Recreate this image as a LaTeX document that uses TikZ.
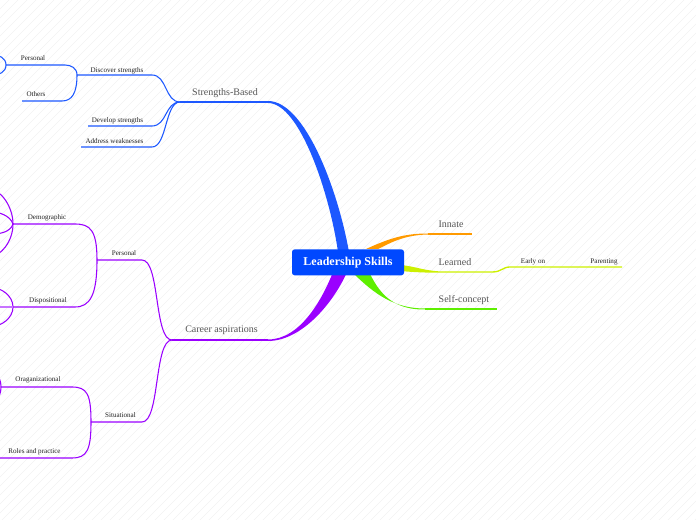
\documentclass[tikz,border=0pt]{standalone}
\usepackage{fontspec}
\setmainfont{Liberation Serif}
\definecolor{hubblue}{HTML}{0048FF}
\definecolor{strblue}{HTML}{1D58FF}
\definecolor{carpurple}{HTML}{9A00FF}
\definecolor{innorange}{HTML}{FF9A00}
\definecolor{lrnyellow}{HTML}{CCF000}
\definecolor{selfgreen}{HTML}{5EEF00}
\definecolor{labelgray}{HTML}{555555}
\definecolor{twiggray}{HTML}{222222}
\tikzset{
  topic/.style={font=\fontsize{7.5}{9}\selectfont, text=labelgray, anchor=base, inner sep=0pt, yshift=-1pt},
  subtopic/.style={font=\fontsize{5.3}{6}\selectfont, text=twiggray, anchor=base, inner sep=0pt, yshift=-0.8pt},
  limb/.style={line width=1pt},
  twig/.style={line width=0.8pt},
  hatch/.style={line width=0.3pt, black!5},
  hub/.style={fill=hubblue, text=white, rounded corners=2pt, minimum width=84pt,
    minimum height=19.5pt, font=\fontsize{9}{11}\selectfont\bfseries},
}
\begin{document}
\begin{tikzpicture}[x=0.75pt, y=-0.75pt]
  \useasboundingbox (0,0) rectangle (696,520);
  \clip (0,0) rectangle (696,520);
  % background
  \foreach \k in {-520,-511,...,696}
    \draw[hatch] (\k,520) -- ++(520,-520);
  % strengths-based
  \coordinate (sbL) at (180,102);
  \coordinate (sbR) at (268,102);
  \coordinate (discR) at (152,75);
  \coordinate (discL) at (77,75);
  \coordinate (devR) at (152,126);
  \coordinate (devL) at (88,126);
  \coordinate (addR) at (152,147);
  \coordinate (addL) at (81,147);
  \coordinate (persR) at (65,65);
  \coordinate (persL) at (6,65);
  \coordinate (othR) at (62,101);
  \coordinate (othL) at (22,101);
  \fill[strblue] (268,101) .. controls (305,101) and (338,190) .. (349,252)
    -- (338,252) .. controls (330,195) and (300,103) .. (268,103) -- cycle;
  \draw[limb, strblue] (sbL) -- (sbR);
  \draw[twig, strblue] (sbL) .. controls +(-15,0) and +(15,0) .. (discR) -- (discL);
  \draw[twig, strblue] (sbL) .. controls +(-15,0) and +(15,0) .. (devR) -- (devL);
  \draw[twig, strblue] (sbL) .. controls +(-15,0) and +(15,0) .. (addR) -- (addL);
  \draw[twig, strblue] (discL) .. controls +(0,-7) and +(6,0) .. (persR) -- (persL);
  \draw[twig, strblue] (discL) .. controls +(0,18) and +(10,0) .. (othR) -- (othL);
  \draw[twig, strblue] (persL) .. controls +(0,-7) and +(5,0) .. (-6,55);
  \draw[twig, strblue] (persL) .. controls +(0,7) and +(5,0) .. (-6,75);
  \node[topic] (strengths) at (225,94) {Strengths-Based};
  \node[subtopic] (discover) at (117,71) {Discover strengths};
  \node[subtopic] (develop) at (117.5,121) {Develop strengths};
  \node[subtopic] (address) at (114.5,142) {Address weaknesses};
  \node[subtopic] (personal1) at (33,59.5) {Personal};
  \node[subtopic] (others) at (36,95) {Others};
  % career aspirations
  \coordinate (caL) at (172,340);
  \coordinate (caR) at (268,340);
  \coordinate (cpR) at (142,260);
  \coordinate (cpL) at (97,260);
  \coordinate (sitR) at (142,422);
  \coordinate (sitL) at (91,422);
  \coordinate (demR) at (75,224);
  \coordinate (demL) at (13,224);
  \coordinate (dispR) at (75,307);
  \coordinate (dispL) at (13,307);
  \coordinate (orgR) at (72,387);
  \coordinate (orgL) at (1,387);
  \coordinate (roleR) at (72,458);
  \coordinate (roleL) at (0,458);
  \fill[carpurple] (268,339.5) .. controls (300,339.5) and (322,300) .. (333,272)
    -- (347,272) .. controls (334,302) and (302,341) .. (268,341) -- cycle;
  \draw[limb, carpurple] (caL) -- (caR);
  \draw[twig, carpurple] (caL) .. controls +(-18,0) and +(18,0) .. (cpR) -- (cpL);
  \draw[twig, carpurple] (caL) .. controls +(-18,0) and +(18,0) .. (sitR) -- (sitL);
  \draw[twig, carpurple] (cpL) .. controls +(0,-30) and +(15,0) .. (demR) -- (demL);
  \draw[twig, carpurple] (cpL) .. controls +(0,35) and +(15,0) .. (dispR) -- (dispL);
  \draw[twig, carpurple] (sitL) .. controls +(0,-28) and +(15,0) .. (orgR) -- (orgL);
  \draw[twig, carpurple] (sitL) .. controls +(0,28) and +(15,0) .. (roleR) -- (roleL);
  \draw[twig, carpurple] (demL) .. controls +(0,-18) and +(8,0) .. (-8,190);
  \draw[twig, carpurple] (demL) .. controls +(-3,-9) and +(6,0) .. (-8,212);
  \draw[twig, carpurple] (demL) .. controls +(-3,9) and +(6,0) .. (-8,234);
  \draw[twig, carpurple] (demL) .. controls +(0,18) and +(8,0) .. (-8,256);
  \draw[twig, carpurple] (dispL) .. controls +(0,-12) and +(6,0) .. (-6,288);
  \draw[twig, carpurple] (dispL) .. controls +(0,12) and +(6,0) .. (-6,326);
  \draw[line width=1.4pt, carpurple!55] (dispL) -- (-6,307);
  \draw[twig, carpurple] (orgL) .. controls +(0,-6) and +(3,0) .. (-4,376);
  \draw[twig, carpurple] (orgL) .. controls +(0,6) and +(3,0) .. (-4,398);
  \node[topic] (career) at (221.5,331.5) {Career aspirations};
  \node[subtopic] (personal2) at (124,254) {Personal};
  \node[subtopic] (situational) at (120.5,416.5) {Situational};
  \node[subtopic] (demographic) at (47,218) {Demographic};
  \node[subtopic] (dispositional) at (48,301) {Dispositional};
  \node[subtopic] (organizational) at (38,380.5) {Oraganizational};
  \node[subtopic] (roles) at (34.5,452) {Roles and practice};
  % innate, learned, self-concept
  \coordinate (innL) at (428,234);
  \coordinate (innR) at (472,234);
  \coordinate (lrnL) at (445,272);
  \coordinate (lrnM) at (492,272);
  \coordinate (earlyL) at (510,267);
  \coordinate (parR) at (622,267);
  \coordinate (selfL) at (425,309);
  \coordinate (selfR) at (497,309);
  \fill[innorange] (366,249) .. controls (390,238) and (405,233.5) .. (428,233.5)
    -- (428,234.5) .. controls (405,235) and (392,242) .. (378,249) -- cycle;
  \draw[limb, innorange] (innL) -- (innR);
  \fill[lrnyellow] (400,265) .. controls (415,266) and (425,271.5) .. (445,271.5)
    -- (445,272.5) .. controls (425,273) and (412,272) .. (400,271) -- cycle;
  \draw[limb, lrnyellow] (lrnL) -- (lrnM) .. controls +(10,0) and +(-8,0) .. (earlyL) -- (parR);
  \fill[selfgreen] (352,272) .. controls (375,295) and (395,308.5) .. (425,308.5)
    -- (425,309.5) .. controls (390,310) and (378,290) .. (369,272) -- cycle;
  \draw[limb, selfgreen] (selfL) -- (selfR);
  \node[topic] (innate) at (451,226.5) {Innate};
  \node[topic] (learned) at (455,264) {Learned};
  \node[topic] (selfconcept) at (464,301) {Self-concept};
  \node[subtopic] (earlyon) at (533,262) {Early on};
  \node[subtopic] (parenting) at (604,262) {Parenting};
  % centre
  \node[hub, yshift=-1pt] (skills) at (348,261) {Leadership Skills};
\end{tikzpicture}
\end{document}
